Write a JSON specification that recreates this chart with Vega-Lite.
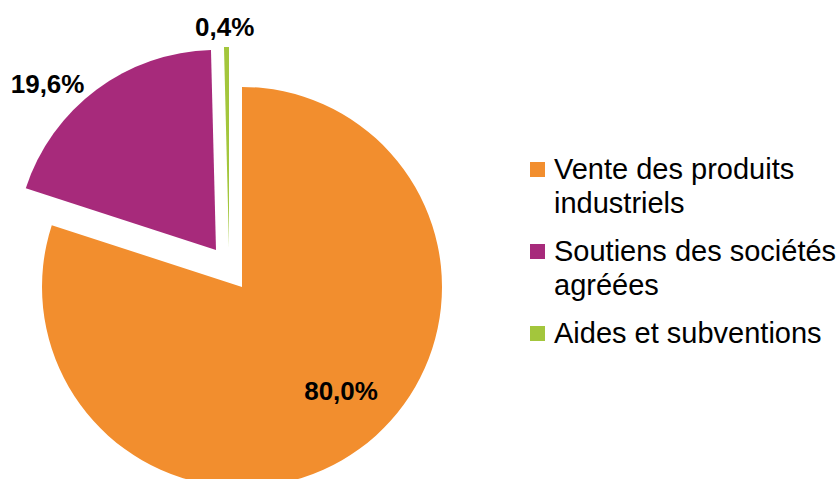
{
  "$schema": "https://vega.github.io/schema/vega-lite/v6.json",
  "width": 400,
  "height": 384,
  "autosize": {"type": "none"},
  "padding": {"left": 42, "top": 95, "right": 398, "bottom": 0},
  "background": "white",
  "config": {"view": {"stroke": null}, "font": "Liberation Sans", "style": {"guide-label": {"lineHeight": 34, "font": "Liberation Sans"}}},
  "data": {"values": [
    {"cat": "Vente des produits industriels", "value": 80.0, "rank": 1, "label": "80,0%"},
    {"cat": "Soutiens des sociétés agréées", "value": 19.6, "rank": 2, "label": "19,6%"},
    {"cat": "Aides et subventions", "value": 0.4, "rank": 3, "label": "0,4%"}
  ]},
  "transform": [
    {"stack": "value", "groupby": [], "sort": [{"field": "rank"}], "as": ["v0", "v1"]},
    {"calculate": "(datum.v0 + datum.v1) / 2", "as": "mid"}
  ],
  "layer": [
    {
      "transform": [{"filter": "datum.rank == 1"}],
      "mark": {"type": "arc", "radius": 200},
      "encoding": {
        "theta": {"field": "v0", "type": "quantitative", "scale": {"domain": [0, 100]}},
        "theta2": {"field": "v1"},
        "color": {
          "field": "cat", "type": "nominal",
          "scale": {"domain": ["Vente des produits industriels", "Soutiens des sociétés agréées", "Aides et subventions"], "range": ["#F28E2E", "#A72A7B", "#A3C63C"]},
          "legend": {
            "orient": "none", "legendX": 481, "legendY": 60, "title": null,
            "symbolType": "square", "symbolSize": 225, "symbolStrokeWidth": 0,
            "labelFont": "Liberation Sans", "labelFontSize": 29, "labelColor": "#000000",
            "labelLimit": 400, "labelOffset": 2, "rowPadding": 18,
            "labelExpr": "datum.value == 'Vente des produits industriels' ? ['Vente des produits', 'industriels'] : datum.value == 'Soutiens des sociétés agréées' ? ['Soutiens des sociétés', 'agréées'] : datum.value"
          }
        }
      }
    },
    {
      "transform": [{"filter": "datum.rank == 2"}],
      "mark": {"type": "arc", "radius": 200, "xOffset": -26, "yOffset": -37},
      "encoding": {
        "theta": {"field": "v0", "type": "quantitative", "scale": {"domain": [0, 100]}},
        "theta2": {"field": "v1"},
        "color": {"field": "cat", "type": "nominal"}
      }
    },
    {
      "transform": [{"filter": "datum.rank == 3"}],
      "mark": {"type": "arc", "radius": 200, "xOffset": -13, "yOffset": -40},
      "encoding": {
        "theta": {"field": "v0", "type": "quantitative", "scale": {"domain": [0, 100]}},
        "theta2": {"field": "v1"},
        "color": {"field": "cat", "type": "nominal"}
      }
    },
    {
      "transform": [{"filter": "datum.rank == 1"}],
      "mark": {"type": "text", "radius": 143, "dx": 15, "dy": -11, "font": "Liberation Sans", "fontSize": 26, "fontWeight": "bold", "color": "#000000", "align": "center", "baseline": "middle"},
      "encoding": {
        "theta": {"field": "mid", "type": "quantitative", "scale": {"domain": [0, 100]}},
        "text": {"field": "label"}
      }
    },
    {
      "transform": [{"filter": "datum.rank == 2"}],
      "mark": {"type": "text", "radius": 280, "dx": -27, "dy": 22, "font": "Liberation Sans", "fontSize": 26, "fontWeight": "bold", "color": "#000000", "align": "center", "baseline": "middle"},
      "encoding": {
        "theta": {"field": "mid", "type": "quantitative", "scale": {"domain": [0, 100]}},
        "text": {"field": "label"}
      }
    },
    {
      "transform": [{"filter": "datum.rank == 3"}],
      "mark": {"type": "text", "radius": 259, "dx": -14, "dy": 0, "font": "Liberation Sans", "fontSize": 26, "fontWeight": "bold", "color": "#000000", "align": "center", "baseline": "middle"},
      "encoding": {
        "theta": {"field": "mid", "type": "quantitative", "scale": {"domain": [0, 100]}},
        "text": {"field": "label"}
      }
    }
  ]
}
